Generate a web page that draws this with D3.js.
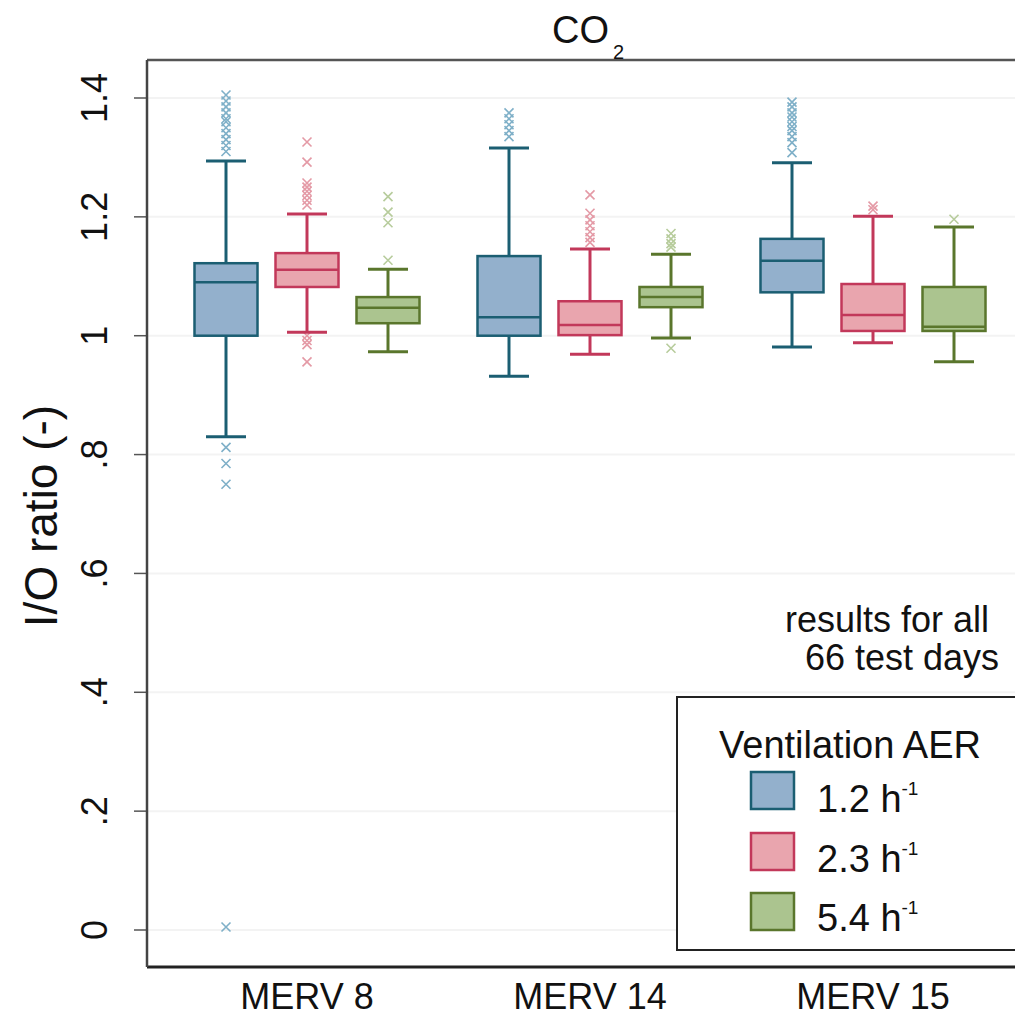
<!DOCTYPE html>
<html><head><meta charset="utf-8">
<script src="https://cdn.jsdelivr.net/npm/d3@7"></script>
<style>
html,body{margin:0;padding:0;background:#fff;}
text{font-family:"Liberation Sans",Arial,Helvetica,sans-serif;fill:#111;}
</style></head>
<body><svg id="chart" width="1015" height="1020"></svg>
<script>
// ---- data ----
const categories = ["MERV 8", "MERV 14", "MERV 15"];
const seriesNames = ["1.2", "2.3", "5.4"];
const yTickValues = [0, 0.2, 0.4, 0.6, 0.8, 1, 1.2, 1.4];
const yTickLabels = ["0", ".2", ".4", ".6", ".8", "1", "1.2", "1.4"];

// per series, one entry per category (MERV 8, MERV 14, MERV 15)
const lowWhisker1 = [0.830, 0.932, 0.981];
const q1_1        = [1.000, 1.000, 1.073];
const median1     = [1.090, 1.031, 1.126];
const q3_1        = [1.122, 1.134, 1.163];
const highWhisker1= [1.294, 1.316, 1.291];
const outliers1 = [
  [1.405, 1.395, 1.385, 1.375, 1.365, 1.36, 1.35, 1.34, 1.33, 1.32, 1.31, 0.812, 0.785, 0.75, 0.005],
  [1.375, 1.365, 1.355, 1.345, 1.335],
  [1.393, 1.385, 1.375, 1.368, 1.36, 1.352, 1.345, 1.335, 1.325, 1.308]
];

const lowWhisker2 = [1.006, 0.969, 0.988];
const q1_2        = [1.082, 1.001, 1.008];
const median2     = [1.111, 1.018, 1.035];
const q3_2        = [1.139, 1.058, 1.087];
const highWhisker2= [1.205, 1.146, 1.201];
const outliers2 = [
  [1.326, 1.292, 1.257, 1.25, 1.243, 1.236, 1.228, 1.22, 1.0, 0.992, 0.985, 0.956],
  [1.237, 1.206, 1.195, 1.185, 1.175, 1.165, 1.157],
  [1.218, 1.212]
];

const lowWhisker3 = [0.973, 0.996, 0.956];
const q1_3        = [1.021, 1.048, 1.008];
const median3     = [1.047, 1.065, 1.015];
const q3_3        = [1.065, 1.082, 1.082];
const highWhisker3= [1.112, 1.137, 1.183];
const outliers3 = [
  [1.234, 1.208, 1.19, 1.127],
  [1.172, 1.163, 1.155, 1.149, 0.979],
  [1.196]
];

// ---- styles ----
const fills   = ["#93b0cc", "#e9a5ae", "#abc48f"];
const strokes = ["#1b5e72", "#c2385a", "#5a762c"];
const markCol = ["#7fb0c8", "#e49aa6", "#b7cc9c"];

const stats = [
  {lw: lowWhisker1, q1: q1_1, med: median1, q3: q3_1, hw: highWhisker1, out: outliers1},
  {lw: lowWhisker2, q1: q1_2, med: median2, q3: q3_2, hw: highWhisker2, out: outliers2},
  {lw: lowWhisker3, q1: q1_3, med: median3, q3: q3_3, hw: highWhisker3, out: outliers3}
];

const svg = d3.select("#chart");
const frame = {left: 147, top: 60, right: 1015, bottom: 967};

const y = d3.scaleLinear().domain([0, 1.4]).range([930, 98]);
const x = d3.scaleBand().domain(categories).range([165.5, 1014.5]).padding(0);
const xs = d3.scalePoint().domain(seriesNames).range([-81, 81]);
const boxW = 63, capW = 40;

// faint grid
svg.append("g").selectAll("line").data(yTickValues).join("line")
  .attr("x1", frame.left).attr("x2", frame.right)
  .attr("y1", d => y(d)).attr("y2", d => y(d))
  .attr("stroke", "#f3f3f3").attr("stroke-width", 2);

// boxes
stats.forEach((s, si) => {
  const g = svg.append("g");
  categories.forEach((c, ci) => {
    const cx = x(c) + x.bandwidth() / 2 + xs(seriesNames[si]);
    // outliers
    s.out[ci].forEach(v => {
      const py = y(v), r = 4.5;
      g.append("path")
        .attr("d", `M${cx - r},${py - r}L${cx + r},${py + r}M${cx - r},${py + r}L${cx + r},${py - r}`)
        .attr("stroke", markCol[si]).attr("stroke-width", 1.6).attr("fill", "none");
    });
    // whiskers
    g.append("line").attr("x1", cx).attr("x2", cx).attr("y1", y(s.hw[ci])).attr("y2", y(s.q3[ci]))
      .attr("stroke", strokes[si]).attr("stroke-width", 3);
    g.append("line").attr("x1", cx).attr("x2", cx).attr("y1", y(s.q1[ci])).attr("y2", y(s.lw[ci]))
      .attr("stroke", strokes[si]).attr("stroke-width", 3);
    [s.hw[ci], s.lw[ci]].forEach(v => {
      g.append("line").attr("x1", cx - capW / 2).attr("x2", cx + capW / 2)
        .attr("y1", y(v)).attr("y2", y(v))
        .attr("stroke", strokes[si]).attr("stroke-width", 3);
    });
    // box
    g.append("rect").attr("x", cx - boxW / 2).attr("width", boxW)
      .attr("y", y(s.q3[ci])).attr("height", y(s.q1[ci]) - y(s.q3[ci]))
      .attr("fill", fills[si]).attr("stroke", strokes[si]).attr("stroke-width", 2.5);
    g.append("line").attr("x1", cx - boxW / 2).attr("x2", cx + boxW / 2)
      .attr("y1", y(s.med[ci])).attr("y2", y(s.med[ci]))
      .attr("stroke", strokes[si]).attr("stroke-width", 2.5);
  });
});

// frame
svg.append("line").attr("x1", frame.left).attr("x2", frame.right).attr("y1", frame.top).attr("y2", frame.top)
  .attr("stroke", "#555").attr("stroke-width", 2.5);
svg.append("line").attr("x1", frame.left).attr("x2", frame.right).attr("y1", frame.bottom).attr("y2", frame.bottom)
  .attr("stroke", "#222").attr("stroke-width", 3);

// y axis
const yAxis = d3.axisLeft(y).tickValues(yTickValues).tickSize(13).tickSizeOuter(0)
  .tickFormat((d, i) => yTickLabels[i]);
const yg = svg.append("g").attr("transform", `translate(${frame.left},0)`).call(yAxis);
yg.select(".domain").remove();
yg.append("line").attr("x1", 0).attr("x2", 0).attr("y1", frame.top).attr("y2", frame.bottom)
  .attr("stroke", "#444").attr("stroke-width", 2.5);
yg.selectAll(".tick line").attr("stroke", "#555").attr("stroke-width", 1.5);
yg.selectAll(".tick text")
  .attr("font-size", 36).attr("fill", "#111")
  .attr("font-family", '"Liberation Sans", Arial, sans-serif')
  .attr("text-anchor", "middle")
  .attr("transform", "rotate(-90)")
  .attr("x", d => -y(d)).attr("y", -40).attr("dy", 0);
yg.selectAll(".tick").attr("transform", null).each(function (d) {
  d3.select(this).select("line").attr("y1", y(d)).attr("y2", y(d));
});

svg.append("text").attr("transform", "translate(57,516) rotate(-90)")
  .attr("text-anchor", "middle").attr("font-size", 46).text("I/O ratio (-)");

// x axis labels
const xAxis = d3.axisBottom(x).tickSize(0);
const xg = svg.append("g").attr("transform", `translate(0,${frame.bottom})`).call(xAxis);
xg.select(".domain").remove();
xg.selectAll(".tick text").attr("font-size", 36).attr("fill", "#111")
  .attr("font-family", '"Liberation Sans", Arial, sans-serif')
  .attr("y", 42).attr("dy", 0);

// title
const t = svg.append("text").attr("x", 552).attr("y", 43).attr("font-size", 38);
t.append("tspan").text("CO");
t.append("tspan").attr("font-size", 20).attr("dy", 16).attr("dx", 4).text("2");

// annotation
svg.append("text").attr("x", 785).attr("y", 632).attr("font-size", 36).text("results for all");
svg.append("text").attr("x", 805).attr("y", 670).attr("font-size", 36).text("66 test days");

// legend
const lg = svg.append("g");
lg.append("rect").attr("x", 677).attr("y", 697).attr("width", 360).attr("height", 253)
  .attr("fill", "#fff").attr("stroke", "#222").attr("stroke-width", 2);
lg.append("text").attr("x", 850).attr("y", 758).attr("text-anchor", "middle")
  .attr("font-size", 38).text("Ventilation AER");
const swY = [772, 833, 893];
const lbY = [812, 872, 931];
seriesNames.forEach((n, i) => {
  lg.append("rect").attr("x", 751).attr("y", swY[i]).attr("width", 43).attr("height", 37)
    .attr("fill", fills[i]).attr("stroke", strokes[i]).attr("stroke-width", 2.5);
  const tx = lg.append("text").attr("x", 817).attr("y", lbY[i]).attr("font-size", 38);
  tx.append("tspan").text(n + " h");
  tx.append("tspan").attr("font-size", 19).attr("dy", -17).text("-1");
});
</script></body></html>
